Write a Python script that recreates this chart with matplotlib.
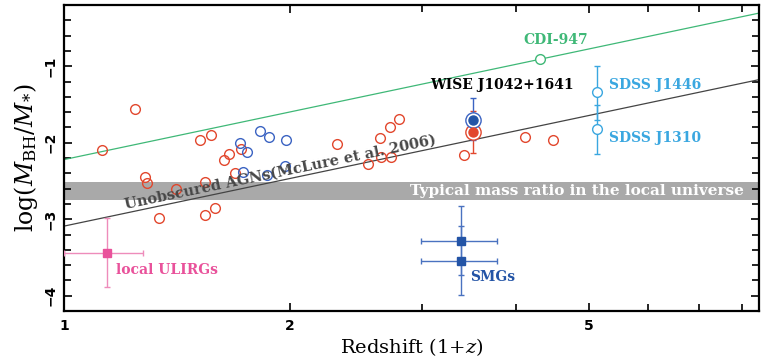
import numpy as np
import matplotlib
matplotlib.use("Agg")
import matplotlib.pyplot as plt
from matplotlib.ticker import FixedLocator, NullFormatter, FixedFormatter

plt.rcParams['mathtext.fontset'] = 'dejavuserif'

# ---------------- data ----------------
red_x = [1.123, 1.242, 1.282, 1.29, 1.338, 1.41, 1.519, 1.539, 1.539, 1.569, 1.589,
         1.632, 1.659, 1.69, 1.719, 2.307, 2.543, 2.635, 2.643, 2.713, 2.726, 2.79,
         3.41, 4.106, 4.478]
red_y = [-2.09, -1.56, -2.45, -2.52, -2.98, -2.60, -1.97, -2.51, -2.94, -1.90, -2.85,
         -2.22, -2.15, -2.40, -2.08, -2.02, -2.28, -1.94, -2.19, -1.79, -2.19, -1.69,
         -2.16, -1.92, -1.97]
blue_x = [1.714, 1.751, 1.826, 1.875, 1.972, 1.733, 1.865, 1.967]
blue_y = [-2.00, -2.12, -1.84, -1.93, -1.96, -2.38, -2.42, -2.30]

wise_x = 3.50
wise_blue_y, wise_blue_up, wise_blue_lo = -1.70, 0.29, 0.26
wise_red_y, wise_red_up, wise_red_lo = -1.86, 0.28, 0.28

cdi_x, cdi_y = 4.30, -0.91
sdss_x = 5.13
sdss1446_y, sdss1446_up, sdss1446_lo = -1.34, 0.34, 0.36
sdss1310_y, sdss1310_up, sdss1310_lo = -1.82, 0.31, 0.33

smg_x, smg_xlo, smg_xhi = 3.38, 2.99, 3.77
smg_y = [-3.28, -3.54]
smg_yerr = 0.45

ulirg_x, ulirg_xlo, ulirg_xhi = 1.14, 1.0, 1.275
ulirg_y, ulirg_yerr = -3.44, 0.45

mclure_slope, mclure_icpt = 2.07, -3.09
green_icpt = -2.22
band_lo, band_hi = -2.75, -2.51

xticks_major = [1, 2, 5]
xticks_minor = [3, 4, 6, 7, 8]
yticks_major = [-4, -3, -2, -1]

# ---------------- colours ----------------
RED = '#e2472d'
BLUE = '#3b63c2'
GREEN = '#3fb877'
CYAN = '#3aa7e0'
PINK = '#e9529b'
NAVY = '#2354a6'

fig = plt.figure(figsize=(7.63, 3.64), dpi=100)
ax = fig.add_axes([0.0839, 0.1456, 0.9109, 0.8404])
ax.set_xscale('log')
ax.set_xlim(1, 8.42)
ax.set_ylim(-4.2, -0.2)

# band
ax.axhspan(band_lo, band_hi, color='#a9a9a9', lw=0, zorder=1)
ax.text(8.05, (band_lo + band_hi) / 2, 'Typical mass ratio in the local universe',
        color='white', ha='right', va='center', fontsize=11, fontweight='bold',
        family='DejaVu Serif', zorder=2)

# lines
xl = np.array([1.0, 8.42])
ax.plot(xl, mclure_icpt + mclure_slope * np.log10(xl), color='#444444', lw=0.9, zorder=2)
ax.plot(xl, green_icpt + mclure_slope * np.log10(xl), color=GREEN, lw=0.9, zorder=2)

# scatter
ax.plot(red_x, red_y, 'o', mfc='none', mec=RED, mew=1.0, ms=7, zorder=3)
ax.plot(blue_x, blue_y, 'o', mfc='none', mec=BLUE, mew=1.0, ms=7, zorder=3)

# WISE
ax.errorbar([wise_x], [wise_red_y], yerr=[[wise_red_lo], [wise_red_up]], fmt='none',
            ecolor=RED, elinewidth=1, capsize=2.5, zorder=3)
ax.errorbar([wise_x], [wise_blue_y], yerr=[[wise_blue_lo], [wise_blue_up]], fmt='none',
            ecolor=BLUE, elinewidth=1, capsize=2.5, zorder=3)
ax.plot([wise_x], [wise_red_y], 'o', mfc='white', mec=RED, mew=1.0, ms=11, zorder=4)
ax.plot([wise_x], [wise_red_y], 'o', color=RED, ms=6.5, zorder=5)
ax.plot([wise_x], [wise_blue_y], 'o', mfc='white', mec=BLUE, mew=1.0, ms=11, zorder=4)
ax.plot([wise_x], [wise_blue_y], 'o', color=NAVY, ms=6.5, zorder=5)

# CDI-947
ax.plot([cdi_x], [cdi_y], 'o', mfc='white', mec=GREEN, mew=1.0, ms=7, zorder=4)

# SDSS
for yv, up, lo in [(sdss1446_y, sdss1446_up, sdss1446_lo), (sdss1310_y, sdss1310_up, sdss1310_lo)]:
    ax.errorbar([sdss_x], [yv], yerr=[[lo], [up]], fmt='o', mfc='white', mec=CYAN,
                ecolor=CYAN, mew=1.0, ms=7, elinewidth=1, capsize=2.5, zorder=4)

# SMGs
for yv in smg_y:
    ax.errorbar([smg_x], [yv], xerr=[[smg_x - smg_xlo], [smg_xhi - smg_x]], yerr=smg_yerr,
                fmt='s', color=NAVY, ecolor='#4a72c0', ms=6, elinewidth=1, capsize=2.5, zorder=4)

# ULIRGs
ax.errorbar([ulirg_x], [ulirg_y], xerr=[[ulirg_x - ulirg_xlo], [ulirg_xhi - ulirg_x]],
            yerr=ulirg_yerr, fmt='s', color=PINK, ecolor='#ee8cbb', ms=6, elinewidth=1,
            capsize=2.5, zorder=4)

# labels
lab = dict(fontsize=10, fontweight='bold', family='DejaVu Serif', zorder=6)
ax.text(4.51, -0.65, 'CDI-947', color=GREEN, ha='center', va='center', **lab)
ax.text(3.83, -1.25, 'WISE J1042+1641', color='black', ha='center', va='center', **lab)
ax.text(5.32, -1.25, 'SDSS J1446', color=CYAN, ha='left', va='center', **lab)
ax.text(5.32, -1.94, 'SDSS J1310', color=CYAN, ha='left', va='center', **lab)
ax.text(3.47, -3.76, 'SMGs', color=NAVY, ha='left', va='center', **lab)
ax.text(1.172, -3.66, 'local ULIRGs', color=PINK, ha='left', va='center', **lab)
ax.text(1.94, -2.38, 'Unobscured AGNs(McLure et al. 2006)', color='#474747',
        ha='center', va='center', rotation=11.8, rotation_mode='anchor',
        fontsize=10.5, fontweight='bold', family='DejaVu Serif', zorder=6)

# axes styling
ax.xaxis.set_major_locator(FixedLocator(xticks_major))
ax.xaxis.set_major_formatter(FixedFormatter([str(v) for v in xticks_major]))
ax.xaxis.set_minor_locator(FixedLocator(xticks_minor))
ax.xaxis.set_minor_formatter(NullFormatter())
ax.yaxis.set_major_locator(FixedLocator(yticks_major))
ax.yaxis.set_major_formatter(FixedFormatter(['\u22124', '\u22123', '\u22122', '\u22121']))
ax.yaxis.set_minor_locator(FixedLocator(np.arange(-4.2, -0.19, 0.2)))
ax.tick_params(which='both', direction='in', top=True, right=True, width=1.2)
ax.tick_params(which='major', length=6)
ax.tick_params(which='minor', length=5)
ax.tick_params(axis='x', labelsize=10, pad=6)
ax.tick_params(axis='y', labelsize=10, pad=5)
for t in ax.get_xticklabels():
    t.set_fontweight('bold')
for t in ax.get_yticklabels():
    t.set_fontweight('bold')
    t.set_rotation(90)
    t.set_va('center')
for s in ax.spines.values():
    s.set_linewidth(1.6)

ax.set_xlabel('Redshift (1+$z$)', fontsize=14, family='DejaVu Serif', labelpad=2)
ax.set_ylabel(r'$\log(\mathbf{\mathit{M}}_{\rm BH}/\mathbf{\mathit{M}}_{*})$', fontsize=17, labelpad=2)

fig.savefig('out.png', dpi=100)
